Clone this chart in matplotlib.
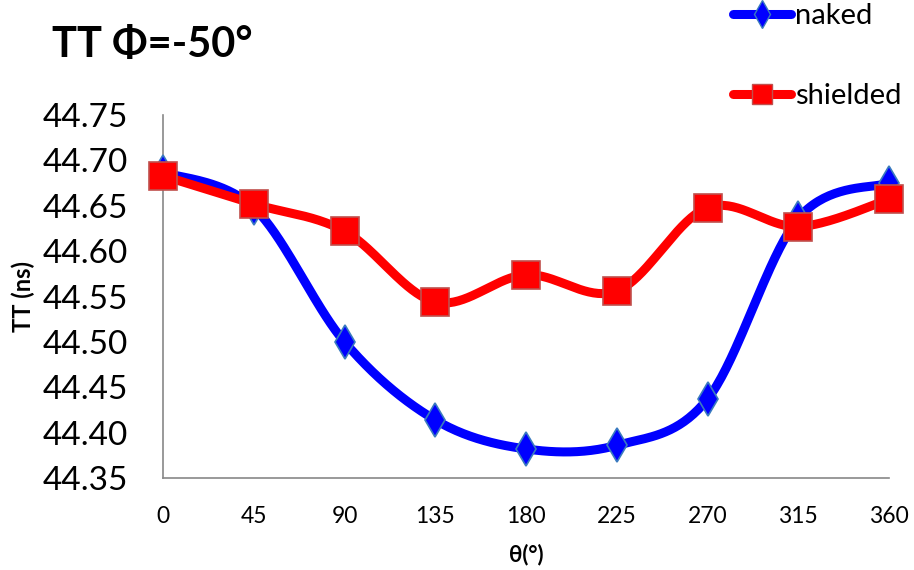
import numpy as np
import matplotlib
matplotlib.use("Agg")
import matplotlib.pyplot as plt
from matplotlib.lines import Line2D

plt.rcParams['font.family'] = ['Lato', 'DejaVu Sans']

theta = [0, 45, 90, 135, 180, 225, 270, 315, 360]
naked = [44.687, 44.648, 44.500, 44.414, 44.382, 44.386, 44.437, 44.636, 44.675]
shielded = [44.683, 44.652, 44.622, 44.544, 44.574, 44.556, 44.648, 44.627, 44.657]
yticks = [44.35, 44.40, 44.45, 44.50, 44.55, 44.60, 44.65, 44.70, 44.75]


def smooth(x, y, n=40):
    """Catmull-Rom style Bezier smoothing through every point."""
    x = np.asarray(x, float)
    y = np.asarray(y, float)
    px = np.concatenate([[x[0]], x, [x[-1]]])
    py = np.concatenate([[y[0]], y, [y[-1]]])
    xs, ys = [], []
    t = np.linspace(0, 1, n)
    for i in range(1, len(px) - 2):
        p0 = np.array([px[i], py[i]])
        p3 = np.array([px[i + 1], py[i + 1]])
        c1 = p0 + (p3 - np.array([px[i - 1], py[i - 1]])) / 6.0
        c2 = p3 - (np.array([px[i + 2], py[i + 2]]) - p0) / 6.0
        b = ((1 - t) ** 3)[:, None] * p0 + (3 * (1 - t) ** 2 * t)[:, None] * c1 \
            + (3 * (1 - t) * t ** 2)[:, None] * c2 + (t ** 3)[:, None] * p3
        xs.append(b[:, 0])
        ys.append(b[:, 1])
    return np.concatenate(xs), np.concatenate(ys)


fig = plt.figure(figsize=(9.14, 5.70), dpi=100)
ax = fig.add_axes([163 / 914, 1 - 478 / 570, (889 - 163) / 914, (478 - 115) / 570])

blue = '#0000FF'
red = '#FF0000'
blue_edge = '#3a7bbf'
red_edge = '#c0504d'

sx, sy = smooth(theta, naked)
ax.plot(sx, sy, color=blue, lw=6.5, solid_capstyle='round', zorder=2, clip_on=False)
ax.plot(theta, naked, linestyle='none', marker='d', markersize=17,
        markerfacecolor=blue, markeredgecolor=blue_edge, markeredgewidth=1.2,
        zorder=3, clip_on=False)

sx, sy = smooth(theta, shielded)
ax.plot(sx, sy, color=red, lw=6.5, solid_capstyle='round', zorder=4, clip_on=False)
ax.plot(theta, shielded, linestyle='none', marker='s', markersize=20,
        markerfacecolor=red, markeredgecolor=red_edge, markeredgewidth=1.2,
        zorder=5, clip_on=False)

ax.set_xlim(0, 360)
ax.set_ylim(44.35, 44.75)
ax.set_xticks(theta)
ax.set_xticklabels([str(v) for v in theta], fontsize=16.5)
ax.set_yticks(yticks)
ax.set_yticklabels([f"{v:.2f}" for v in yticks], fontsize=24)
ax.tick_params(length=0)
ax.tick_params(axis='x', pad=20)
ax.tick_params(axis='y', pad=25)
for s in ('top', 'right'):
    ax.spines[s].set_visible(False)
for s in ('left', 'bottom'):
    ax.spines[s].set_color('#888888')
    ax.spines[s].set_linewidth(1.2)

ax.set_xlabel('θ(°)', fontsize=16, fontweight='bold', labelpad=12)
ax.set_ylabel('TT (ns)', fontsize=17, fontweight='bold', labelpad=6)

fig.text(52 / 914, 1 - 57 / 570, 'TT Φ=-50°', fontsize=30, fontweight='bold',
         va='baseline', ha='left')

handles = [
    Line2D([], [], color=blue, lw=6.5, marker='d', markersize=14,
           markerfacecolor=blue, markeredgecolor=blue_edge, solid_capstyle='round'),
    Line2D([], [], color=red, lw=6.5, marker='s', markersize=14,
           markerfacecolor=red, markeredgecolor=red_edge, solid_capstyle='round'),
]
fig.legend(handles, ['naked', 'shielded'], loc='upper left',
           bbox_to_anchor=(733 / 914, 1 - 3 / 570), frameon=False, fontsize=21,
           handlelength=2.0, handletextpad=0.12, labelspacing=1.85, borderpad=0.0,
           borderaxespad=0.0)

fig.savefig('out.png', dpi=100)
